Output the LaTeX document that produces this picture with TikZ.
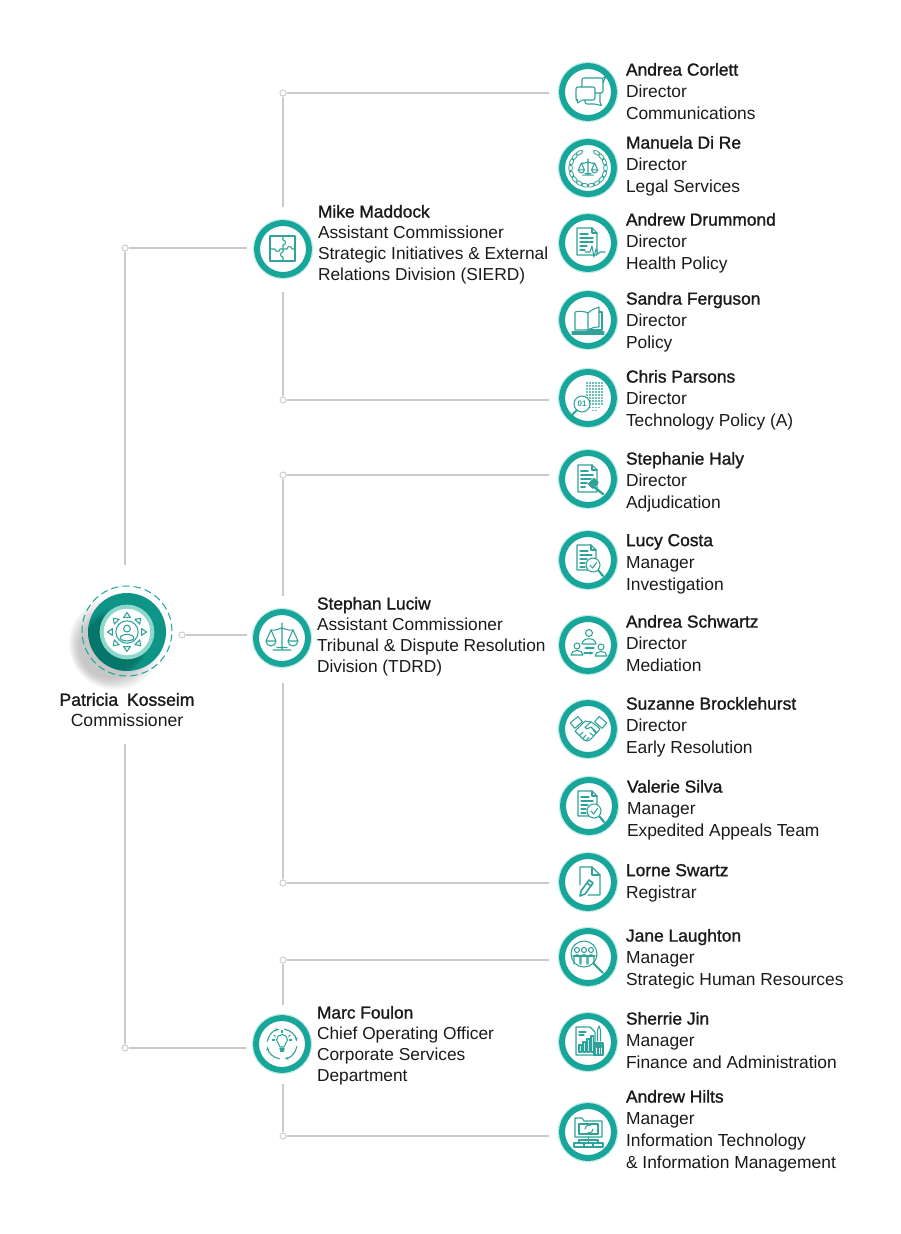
\documentclass[tikz,border=0pt]{standalone}
\usepackage{fontspec}
\setmainfont{Liberation Sans}
\newfontfamily\namefont[FakeBold=1.3]{Liberation Sans}
\newcommand\nmf[1]{{\namefont #1}}
\usetikzlibrary{arrows.meta,calc}
\definecolor{ringc}{HTML}{18A69B}
\definecolor{iconc}{HTML}{2FA399}
\definecolor{glowc}{HTML}{BFEDE8}
\definecolor{darkc}{HTML}{0F9488}
\definecolor{lightc}{HTML}{8ED8CB}
\definecolor{linec}{HTML}{CACACA}
\definecolor{textc}{HTML}{1A1A1A}
\newcommand\IcDoc[5]{\draw[ic] (#1,#2) -- ({#3-#5},#2) -- (#3,{#2+#5}) -- (#3,#4) -- (#1,#4) -- cycle; \draw[ic] ({#3-#5},#2) -- ({#3-#5},{#2+#5}) -- (#3,{#2+#5});}
\newcommand\IcScale{%
  \draw[ic] (0,-15) -- (0,11) (-9,12) -- (9,12) (-5,9.5) -- (5,9.5) (-11,-8) .. controls (-5,-7) and (-3,-10) .. (0,-10) .. controls (3,-10) and (5,-7) .. (11,-8);
  \draw[ic] (-11,-8) -- (-16,3) (-11,-8) -- (-6,3) (-16,3) -- (-6,3) (-16,3) arc[start angle=180,end angle=0,radius=5];
  \draw[ic] (11,-8) -- (6,3) (11,-8) -- (16,3) (6,3) -- (16,3) (6,3) arc[start angle=180,end angle=0,radius=5];}
\newcommand\IcInvest{%
  \IcDoc{-11}{-15}{8}{10}{5}
  \draw[ic] (-8,-9) -- (0,-9) (-8,-5) -- (4,-5) (-8,-1) -- (-1,-1) (-8,3) -- (-3,3) (-8,7) -- (-3,7);
  \draw[ic,fill=white] (5,5) circle[radius=7];
  \draw[ic] (2,5) -- (4.5,8) -- (8.5,2.5);
  \draw[ic,line width=1.6pt] (10.5,10.5) -- (15,16);}
\tikzset{
  x=0.75pt,y=-0.75pt,
  ic/.style={draw=iconc,line width=.8pt,line join=round,line cap=round,fill=none},
  icf/.style={ic,fill=iconc},
  conn/.style={draw=linec,line width=.85pt},
  dotn/.style={circle,draw=linec,fill=white,line width=.7pt,inner sep=0pt,minimum size=4.6pt},
  ring/.style={circle,draw=ringc,line width=4.5pt,fill=white,inner sep=0pt,outer sep=0pt,minimum size=39pt},
  person/.style={anchor=north west,inner sep=0pt,outer sep=0pt,align=left,text=textc,font=\fontsize{13.05pt}{16.5pt}\selectfont},
  manager/.style={anchor=north west,inner sep=0pt,outer sep=0pt,align=left,text=textc,font=\fontsize{13.0pt}{15.75pt}\selectfont},
  pics/ichat/.style={code={
    \draw[ic,rounded corners=1.5pt] (-6,-5) -- (-6,-14) -- (15,-14) -- (15,1) -- (7,1);
    \draw[ic] (15,-14) -- (18,-16) -- (15,-9);
    \draw[ic,rounded corners=1.5pt] (-12,-5) -- (7,-5) -- (7,8) -- (-7,8) -- (-11,12) -- (-10,8) -- (-12,8) -- cycle;
    \draw[ic,rounded corners=1.5pt] (12,1) -- (12,12) -- (14,14) -- (8,12) -- (-3,12) -- (-3,8);}},
  pics/iwreath/.style={code={
    \begin{scope}[scale=.6]\IcScale\end{scope}
    \foreach \a in {-240,-220,...,60}{\draw[ic,line width=.6pt,rotate=\a] (17.5,0) ellipse[x radius=1.8,y radius=3.8];}}},
  pics/ihealth/.style={code={
    \IcDoc{-11}{-15}{9}{12}{5}
    \draw[ic] (-8,-9) -- (0,-9) (-8,-5) -- (5,-5) (-8,-1) -- (5,-1) (-8,3) -- (-1,3) (-8,7) -- (-3,7);
    \draw[ic,fill=white] (-3,9) -- (2,9) -- (4,3) -- (6,14) -- (8,6) -- (10,11) -- (12,9) -- (17,9);}},
  pics/ibook/.style={code={
    \draw[ic] (0,-7) .. controls (-4,-9) and (-9,-9) .. (-13,-8) -- (-13,10) -- (0,10) -- cycle;
    \draw[ic] (0,-7) .. controls (3,-10) and (8,-12) .. (11,-13) -- (11,7) .. controls (7,7) and (3,8) .. (0,10);
    \draw[ic] (11,-8) -- (14,-8) -- (14,10) -- (0,10) (-16,12) -- (16,12) (-16,14) -- (16,14);}},
  pics/itech/.style={code={
    \foreach \xx in {-1,2,5,8,11,14}{\draw[ic,draw=iconc!70,line width=.9pt,line cap=butt,dash pattern=on 1.2pt off 1.1pt] (\xx,-16) -- (\xx,{13-abs(\xx-6)*.6});}
    \draw[ic,fill=white] (-6,6) circle[radius=8];
    \draw[ic,line width=1.5pt] (-11,12) -- (-16,17);
    \node[inner sep=0pt,text=iconc,font=\bfseries\fontsize{6pt}{6pt}\selectfont] (tx) at (-6,6) {01};}},
  pics/igavel/.style={code={
    \IcDoc{-10}{-14}{9}{13}{5}
    \draw[ic,line width=1.2pt] (-7,-8) -- (0,-8) (-7,-4) -- (5,-4) (-7,0) -- (3,0) (-7,4) -- (-1,4) (-7,8) -- (-3,8);
    \draw[icf,rotate around={45:(6,5)}] (2,1) rectangle (10,7);
    \draw[ic,line width=1.8pt] (6,8) -- (15,15);}},
  pics/iinvest/.style={code={\IcInvest}},
  pics/imedia/.style={code={
    \draw[ic] (1,-12) circle[radius=3.5] (-6,-1) .. controls (-6,-8) and (8,-8) .. (8,-1) -- cycle;
    \draw[ic] (-11,1) circle[radius=3] (-17,10) .. controls (-17,4) and (-5,4) .. (-5,10) -- cycle;
    \draw[ic] (13,2) circle[radius=3] (7,11) .. controls (7,5) and (19,5) .. (19,11) -- cycle;
    \draw[ic,-{Stealth[length=3pt]}] (6,3) -- (-4,3);
    \draw[ic,-{Stealth[length=3pt]}] (-4,8) -- (6,8);}},
  pics/ishake/.style={code={
    \draw[ic,rotate around={40:(-12,-7)}] (-17,-10) rectangle (-7,-3);
    \draw[ic,rotate around={-40:(13,-7)}] (8,-10) rectangle (18,-3);
    \draw[ic] (-8,-3) -- (-3,-8) -- (3,-7) -- (9,-3) -- (12,0) -- (3,10) -- (0,12) -- (-4,11) -- (-13,2) -- cycle;
    \draw[ic] (3,-7) -- (-3,-2) -- (-1,0) -- (3,-2) -- (9,4);
    \draw[ic] (-8,6) -- (-5,3) (-5,9) -- (-2,6) (-2,11.5) -- (1,8.5) (5,1) -- (8,4) (2,4) -- (6,7);}},
  pics/ipencil/.style={code={
    \draw[ic] (-8,3) -- (-8,-15) -- (4,-15) -- (12,-7) -- (12,13) -- (0,13);
    \draw[ic] (4,-15) -- (4,-7) -- (12,-7);
    \draw[ic,line width=1.2pt] (-7,9) -- (1,-2) -- (5,1) -- (-3,12) -- (-8,14) -- cycle (-1,1) -- (3,4);}},
  pics/ijane/.style={code={
    \draw[ic] (-4,-3) circle[radius=13];
    \draw[ic,line width=1.4pt] (5,6) -- (15,16);
    \foreach \xx in {-11,-4,3}{\draw[ic] (\xx,-7) circle[radius=2.5] (\xx-3,7) -- (\xx-3,0) .. controls (\xx-3,-3) and (\xx+3,-3) .. (\xx+3,0) -- (\xx+3,7);}
    \draw[ic] (-15,-1) -- (7,-1);}},
  pics/ifinance/.style={code={
    \draw[ic] (-12,-15) -- (2,-15) -- (7,-10) -- (7,13) -- (-12,13) -- cycle;
    \draw[ic] (-9,-10) -- (-2,-10) (-9,-7) -- (-4,-7);
    \foreach \xx/\yy in {-9/3,-5/0,-1/-3,3/-6}{\draw[ic,fill=iconc!25] (\xx,10) rectangle ({\xx+2.5},\yy);}
    \draw[ic,fill=white] (6,1) rectangle (15,13);
    \draw[ic] (7.5,3) rectangle (13.5,5);
    \foreach \yy in {7,9,11}{\draw[ic,line cap=butt,dash pattern=on 1pt off .8pt] (7,\yy) -- (14,\yy);}
    \draw[ic] (9.5,-1) -- (9.5,-12) -- (11,-16) -- (12.5,-12) -- (12.5,-1);}},
  pics/iit/.style={code={
    \draw[ic] (-13,-14) -- (-6,-14) -- (-4,-11) -- (14,-11) -- (14,5) -- (-13,5) -- cycle;
    \draw[ic] (-9,-8) rectangle (10,2);
    \draw[ic,-{Stealth[length=2.4pt]}] (-3,-3) arc[start angle=180,end angle=300,radius=4];
    \draw[ic,-{Stealth[length=2.4pt]}] (5,-3) arc[start angle=0,end angle=120,radius=4];
    \draw[ic] (0.5,5) -- (0.5,8) (-9,11) -- (-9,8) -- (10,8) -- (10,11) (0.5,8) -- (0.5,11);
    \draw[ic] (-14,11) rectangle (-4,15) (-4.5,11) rectangle (5.5,15) (5,11) rectangle (15,15);}},
  pics/ipuzzle/.style={code={
    \draw[ic] (-13,-13) rectangle (12,12);
    \draw[ic] (0,-13) -- (0,-9) arc[start angle=-90,end angle=90,radius=2.5] -- (0,3) arc[start angle=270,end angle=90,radius=2.5] -- (0,12);
    \draw[ic] (-13,0) -- (-8,0) arc[start angle=180,end angle=0,radius=2.5] -- (4,0) arc[start angle=180,end angle=360,radius=2.5] -- (12,0);}},
  pics/iscale/.style={code={\IcScale}},
  pics/ibulb/.style={code={
    \draw[ic] (-2,3) .. controls (-2,0) and (-5.5,-1) .. (-5.5,-4) arc[start angle=180,end angle=360,radius=5.5] .. controls (5.5,-1) and (2,0) .. (2,3) -- cycle;
    \draw[ic,line width=1.2pt] (-2,5) -- (2,5) (-1.5,7) -- (1.5,7);
    \foreach \a in {0,-30,-90,-150,180}{\draw[ic,shift={(0,-4)}] (\a:7.5) -- (\a:9.5);}
    \foreach \a in {10,100,190,280}{\draw[ic,-{Stealth[length=3pt]}] (\a:15) arc[start angle=\a,delta angle=70,radius=15];}}},
  pics/imain/.style={code={
    \draw[ic] (0,0) circle[radius=11.5];
    \draw[ic] (0,-3.5) circle[radius=3.5];
    \draw[ic] (-7,7) .. controls (-8,1) and (8,1) .. (7,7) .. controls (4,10) and (-4,10) .. (-7,7) -- cycle;
    \foreach \a in {0,45,...,315}{\draw[ic,rotate=\a] (15,-3.5) -- (20,0) -- (15,3.5) -- cycle;}}}
}
\begin{document}
\begin{tikzpicture}
\useasboundingbox (0,0) rectangle (900,1234);
% commissioner
\foreach \k in {1,...,16}{\fill[black,opacity=.014] ({116-\k*.4},{643+\k*.3}) circle[radius={48-\k*1.1}];}
\node[circle,fill=darkc,inner sep=0pt,outer sep=0pt,minimum size=58.5pt] (mainb) at (127,632) {};
\begin{scope}
  \clip (127,632) circle[radius=39];
  \foreach \k in {1,...,10}{\fill[black,opacity=.02] ({115-\k*.2},{642+\k*.2}) circle[radius={34-\k*.6}];}
\end{scope}
\node[circle,draw=ringc,dash pattern=on 5.5pt off 3pt,line width=.75pt,inner sep=0pt,outer sep=0pt,minimum size=67.5pt] (maind) at (127,631) {};
\node[circle,fill=white,draw=lightc,line width=3pt,inner sep=0pt,outer sep=0pt,minimum size=38pt] (maini) at (127,632) {};
\pic[scale=.97] at (maini.center) {imain};
\node[anchor=center,inner sep=0pt,outer sep=0pt,align=center,text=textc,font=\fontsize{13.2pt}{15.75pt}\selectfont] (mainl) at (127,710) {\nmf{Patricia\hspace{.5em}Kosseim}\\Commissioner};
% assistant commissioners
\foreach \nm/\xx/\yy/\ic in {am/283/249/ipuzzle,as/282/638/iscale,ac/282/1044/ibulb}{
  \node[circle,draw=glowc,line width=.8pt,inner sep=0pt,minimum size=44.5pt] at (\xx,\yy) {};
  \node[ring] (\nm) at (\xx,\yy) {};
  \pic at (\nm.center) {\ic};
}
\node[manager] (tm) at (318,205) {\nmf{Mike Maddock}\\Assistant Commissioner\\Strategic Initiatives \& External\\Relations Division (SIERD)};
\node[manager] (ts) at (317,597) {\nmf{Stephan Luciw}\\Assistant Commissioner\\Tribunal \& Dispute Resolution\\Division (TDRD)};
\node[manager] (tc) at (317,1006) {\nmf{Marc Foulon}\\Chief Operating Officer\\Corporate Services\\Department};
% people
\foreach \nm/\xx/\yy/\ic in {p1/588/92/ichat,p2/588/168/iwreath,p3/588/243/ihealth,p4/588/320/ibook,p5/588/398/itech,p6/588/479/igavel,p7/588/560/iinvest,p8/588/645/imedia,p9/588/729/ishake,p10/589/806/iinvest,p11/588/882/ipencil,p12/588/957/ijane,p13/588/1042/ifinance,p14/588/1132/iit}{
  \node[circle,draw=glowc,line width=.8pt,inner sep=0pt,minimum size=44.5pt] at (\xx,\yy) {};
  \node[ring] (\nm) at (\xx,\yy) {};
  \pic at (\nm.center) {\ic};
}
\node[person] (t1) at (626,63) {\nmf{Andrea Corlett}\\Director\\Communications};
\node[person] (t2) at (626,136) {\nmf{Manuela Di Re}\\Director\\Legal Services};
\node[person] (t3) at (626,213) {\nmf{Andrew Drummond}\\Director\\Health Policy};
\node[person] (t4) at (626,292) {\nmf{Sandra Ferguson}\\Director\\Policy};
\node[person] (t5) at (626,370) {\nmf{Chris Parsons}\\Director\\Technology Policy (A)};
\node[person] (t6) at (626,452) {\nmf{Stephanie Haly}\\Director\\Adjudication};
\node[person] (t7) at (626,534) {\nmf{Lucy Costa}\\Manager\\Investigation};
\node[person] (t8) at (626,615) {\nmf{Andrea Schwartz}\\Director\\Mediation};
\node[person] (t9) at (626,697) {\nmf{Suzanne Brocklehurst}\\Director\\Early Resolution};
\node[person] (t10) at (627,780) {\nmf{Valerie Silva}\\Manager\\Expedited Appeals Team};
\node[person] (t11) at (626,864) {\nmf{Lorne Swartz}\\Registrar};
\node[person] (t12) at (626,929) {\nmf{Jane Laughton}\\Manager\\Strategic Human Resources};
\node[person] (t13) at (626,1012) {\nmf{Sherrie Jin}\\Manager\\Finance and Administration};
\node[person] (t14) at (626,1090) {\nmf{Andrew Hilts}\\Manager\\Information Technology\\\& Information Management};
% junction dots
\node[dotn] (dma) at (125,248) {};
\node[dotn] (dmc) at (125,1048) {};
\node[dotn] (dms) at (182,635) {};
\node[dotn] (d1) at (283,93) {};
\node[dotn] (d5) at (283,400) {};
\node[dotn] (d6) at (283,475) {};
\node[dotn] (d11) at (283,883) {};
\node[dotn] (d12) at (283,960) {};
\node[dotn] (d14) at (283,1136) {};
% connectors
\draw[conn,shorten >=7.5pt] (dma) -- (dma -| am.west);
\draw[conn,shorten >=7.5pt] (dmc) -- (dmc -| ac.west);
\draw[conn,shorten >=6.7pt] (dms) -- (dms -| as.west);
\draw[conn,shorten >=15.7pt] (dma) -- (dma |- maind.north);
\draw[conn,shorten >=12.7pt] (dmc) -- (dmc |- mainl.south);
\draw[conn,shorten >=12pt] (d1) -- (d1 |- am.north);
\draw[conn,shorten >=12.7pt] (d5) -- (d5 |- am.south);
\draw[conn,shorten >=12pt] (d6) -- (d6 |- as.north);
\draw[conn,shorten >=14.2pt] (d11) -- (d11 |- as.south);
\draw[conn,shorten >=9.7pt] (d12) -- (d12 |- ac.north);
\draw[conn,shorten >=10.5pt] (d14) -- (d14 |- ac.south);
\draw[conn,shorten >=9.7pt] (d1) -- (d1 -| p1.west);
\draw[conn,shorten >=9.7pt] (d5) -- (d5 -| p5.west);
\draw[conn,shorten >=9.7pt] (d6) -- (d6 -| p6.west);
\draw[conn,shorten >=9.7pt] (d11) -- (d11 -| p11.west);
\draw[conn,shorten >=9.7pt] (d12) -- (d12 -| p12.west);
\draw[conn,shorten >=9.7pt] (d14) -- (d14 -| p14.west);
\end{tikzpicture}
\end{document}
